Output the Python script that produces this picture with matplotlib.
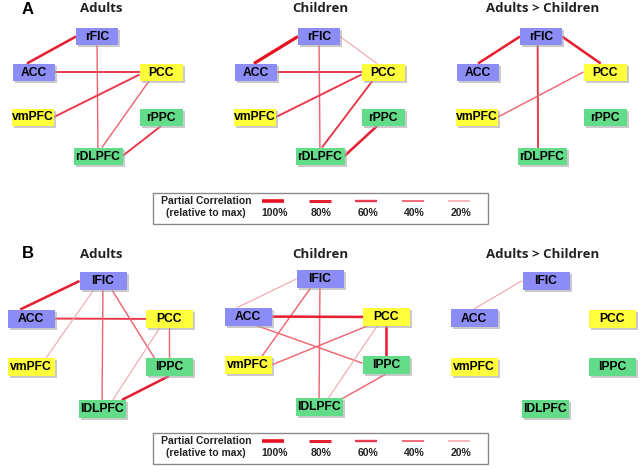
import matplotlib
matplotlib.use("Agg")
import matplotlib.pyplot as plt
from matplotlib.patches import Rectangle

# ---- data ----
NETS_A = ["rFIC", "ACC", "PCC", "vmPFC", "rPPC", "rDLPFC"]
NETS_B = ["lFIC", "ACC", "PCC", "vmPFC", "lPPC", "lDLPFC"]
GROUP = {"rFIC": "sal", "lFIC": "sal", "ACC": "sal", "PCC": "dmn", "vmPFC": "dmn",
         "rPPC": "cen", "lPPC": "cen", "rDLPFC": "cen", "lDLPFC": "cen"}
TITLES = ["Adults", "Children", "Adults > Children"]
LEG_PCT = [100, 80, 60, 40, 20]

# edges: (node, node, partial correlation as % of max)
A_ADULT = [("ACC", "rFIC", 80), ("ACC", "PCC", 60), ("rFIC", "rDLPFC", 40),
           ("PCC", "vmPFC", 60), ("PCC", "rDLPFC", 40), ("rPPC", "rDLPFC", 60)]
A_CHILD = [("ACC", "rFIC", 100), ("rFIC", "PCC", 20), ("ACC", "PCC", 60),
           ("rFIC", "rDLPFC", 40), ("PCC", "vmPFC", 60), ("PCC", "rDLPFC", 60),
           ("rPPC", "rDLPFC", 80)]
A_DIFF = [("ACC", "rFIC", 80), ("rFIC", "PCC", 80), ("rFIC", "rDLPFC", 60),
          ("PCC", "vmPFC", 40)]
B_ADULT = [("ACC", "lFIC", 80), ("ACC", "PCC", 60), ("lFIC", "vmPFC", 20),
           ("lFIC", "lDLPFC", 40), ("lFIC", "lPPC", 40), ("PCC", "lDLPFC", 20),
           ("PCC", "lPPC", 40), ("lPPC", "lDLPFC", 80)]
B_CHILD = [("ACC", "lFIC", 20), ("lFIC", "vmPFC", 40), ("lFIC", "lDLPFC", 40),
           ("ACC", "PCC", 80), ("ACC", "lPPC", 40), ("PCC", "vmPFC", 40),
           ("PCC", "lDLPFC", 20), ("PCC", "lPPC", 80), ("lPPC", "lDLPFC", 40)]
B_DIFF = [("ACC", "lFIC", 20)]

# ---- layout (pixel space of the 640x467 canvas) ----
POS_A = {"rFIC": (0, -35.5), "ACC": (-63, 0), "PCC": (64, 0), "vmPFC": (-64, 45),
         "rPPC": (64, 45.5), "rDLPFC": (1, 84)}
POS_B = {"lFIC": (1, -37.5), "ACC": (-71, 0), "PCC": (67, 0.5), "vmPFC": (-71, 48.5),
         "lPPC": (67, 48.5), "lDLPFC": (0, 90.5)}
ORIG_A = [(97, 72), (319, 72), (541, 72)]
ORIG_B = [(102, 318.5), (319, 316.5), (545, 318)]
TITLE_X = [101, 320, 543]
W_A = {"rFIC": 42, "ACC": 42, "PCC": 43, "vmPFC": 42, "rPPC": 43, "rDLPFC": 49}
H_A, W_B, H_B = 17, 47, 18
TITLE_Y = {"A": 8, "B": 254}

# anchor fractions (fx, fy) inside a box for edges that do not meet at the centre
ANCH = {
    ("A", 0): {("ACC", "rFIC"): ((-0.17, -0.5), (-0.5, 0)),
               ("PCC", "rDLPFC"): ((-0.27, 0.5), (0.08, -0.5)),
               ("rPPC", "rDLPFC"): ((0, 0.5), (0.5, 0)),
               ("PCC", "vmPFC"): ((-0.5, 0.15), (0.5, 0))},
    ("A", 1): {("ACC", "rFIC"): ((-0.05, -0.5), (-0.5, 0)),
               ("rFIC", "PCC"): ((0.5, 0), (-0.14, -0.5)),
               ("PCC", "rDLPFC"): ((-0.24, 0.5), (0.04, -0.5)),
               ("rPPC", "rDLPFC"): ((-0.14, 0.5), (0.5, 0)),
               ("PCC", "vmPFC"): ((-0.5, 0.15), (0.5, 0))},
    ("A", 2): {("ACC", "rFIC"): ((0, -0.5), (-0.5, 0)),
               ("rFIC", "PCC"): ((0.5, 0), (-0.1, -0.5)),
               ("rFIC", "rDLPFC"): ((-0.08, 0), (-0.08, 0)),
               ("PCC", "vmPFC"): ((-0.5, 0), (0.5, 0))},
    ("B", 0): {("ACC", "lFIC"): ((-0.23, -0.5), (-0.5, 0)),
               ("lFIC", "vmPFC"): ((-0.2, 0.5), (0.32, -0.5)),
               ("lFIC", "lPPC"): ((0.19, 0.5), (-0.31, -0.5)),
               ("PCC", "lDLPFC"): ((-0.2, 0.5), (0.23, -0.5)),
               ("lPPC", "lDLPFC"): ((0, 0.5), (0.42, -0.5))},
    ("B", 1): {("ACC", "lFIC"): ((-0.23, -0.5), (-0.5, 0)),
               ("lFIC", "vmPFC"): ((-0.2, 0.5), (0.3, -0.5)),
               ("ACC", "lPPC"): ((0.18, 0.5), (-0.5, -0.1)),
               ("PCC", "vmPFC"): ((-0.4, 0.5), (0.5, 0)),
               ("PCC", "lDLPFC"): ((-0.19, 0.5), (0.2, -0.5)),
               ("lPPC", "lDLPFC"): ((0, 0.5), (0.45, -0.4))},
    ("B", 2): {("ACC", "lFIC"): ((0, -0.5), (-0.5, 0))},
}

FACE = {"sal": "#8c8cf6", "dmn": "#ffff3c", "cen": "#62dc88"}
LW = {100: 2.3, 80: 1.85, 60: 1.4, 40: 1.05, 20: 0.8}
LC = {100: "#e6101e", 80: "#e62033", 60: "#e93a4c", 40: "#ee6673", 20: "#f4a3ab"}

fig = plt.figure(figsize=(6.4, 4.67), dpi=100)
ax = fig.add_axes([0, 0, 1, 1])
ax.set_xlim(0, 640); ax.set_ylim(467, 0); ax.axis("off")


def box(cx, cy, w, h, name):
    ax.add_patch(Rectangle((cx - w / 2 + 2, cy - h / 2 + 2), w, h, fc="#a8a8a8",
                           ec="none", alpha=0.6, zorder=3))
    ax.add_patch(Rectangle((cx - w / 2, cy - h / 2), w, h, fc=FACE[GROUP[name]],
                           ec="none", zorder=4))
    ax.text(cx, cy + 0.5, name, ha="center", va="center", fontsize=8.7,
            fontweight="bold", family="Liberation Sans", zorder=5)


def panel(tag, i, nodes, pos, orig, sizes, edges):
    ox, oy = orig
    cen = {n: (ox + pos[n][0], oy + pos[n][1]) for n in nodes}
    anch = ANCH.get((tag, i), {})
    for a, b, pct in edges:
        (fa, fb) = anch.get((a, b), ((0, 0), (0, 0)))
        (xa, ya), (xb, yb) = cen[a], cen[b]
        wa, ha = sizes(a); wb, hb = sizes(b)
        ax.plot([xa + fa[0] * wa, xb + fb[0] * wb], [ya + fa[1] * ha, yb + fb[1] * hb],
                color=LC[pct], lw=LW[pct], solid_capstyle="butt", zorder=2)
    for n in nodes:
        w, h = sizes(n)
        box(cen[n][0], cen[n][1], w, h, n)
    ax.text(TITLE_X[i], TITLE_Y[tag], TITLES[i], ha="center", va="center", fontsize=9.5,
            fontweight="bold", color="#222222", family="Open Sans")


def legend(y0):
    ax.add_patch(Rectangle((153, y0), 335, 31, fc="white", ec="#8a8a8a", lw=1.0, zorder=1))
    ax.text(206, y0 + 8, "Partial Correlation", ha="center", va="center", fontsize=7.5,
            fontweight="bold", color="#222222", family="Liberation Sans")
    ax.text(206, y0 + 20, "(relative to max)", ha="center", va="center", fontsize=7.5,
            fontweight="bold", color="#222222", family="Liberation Sans")
    for k, pct in enumerate(LEG_PCT):
        x = 273 + k * 46.5
        ax.plot([x - 11, x + 11], [y0 + 8, y0 + 8], color=LC[pct], lw=LW[pct] + 0.3,
                solid_capstyle="butt")
        ax.text(x + 2, y0 + 20, f"{pct}%", ha="center", va="center", fontsize=7.5,
                fontweight="bold", color="#222222", family="Liberation Sans")


for i, edges in enumerate([A_ADULT, A_CHILD, A_DIFF]):
    panel("A", i, NETS_A, POS_A, ORIG_A[i], lambda n: (W_A[n], H_A), edges)
for i, edges in enumerate([B_ADULT, B_CHILD, B_DIFF]):
    panel("B", i, NETS_B, POS_B, ORIG_B[i], lambda n: (W_B, H_B), edges)

ax.text(28, 10, "A", ha="center", va="center", fontsize=12, fontweight="bold",
        family="Liberation Sans")
ax.text(28, 253, "B", ha="center", va="center", fontsize=12, fontweight="bold",
        family="Liberation Sans")
legend(193)
legend(433)

fig.savefig("out.png", dpi=100)
